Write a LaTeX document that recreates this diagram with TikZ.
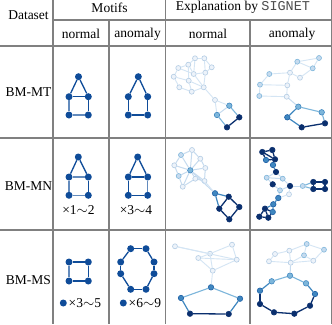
\documentclass[tikz,border=0pt]{standalone}
\usepackage{fontspec}
\setmainfont{Liberation Serif}
\setmonofont{Liberation Mono}
\begin{document}
\begin{tikzpicture}[x=1pt,y=-1pt,
  grid/.style={draw=black!50,line width=1.1pt},
  txt/.style={font=\fontsize{13.5}{15}\selectfont,inner sep=0pt},
  mn/.style={circle,fill=mblue,inner sep=0pt,minimum size=7pt},
  me/.style={draw=mblue,line width=1.3pt},
  mel/.style={draw=mblue!65,line width=1.3pt},
  pn/.style={circle,draw=pal2,fill=pal1,line width=0.6pt,inner sep=0pt,minimum size=5pt},
  ln/.style={circle,draw=bl3,fill=bl2,line width=0.6pt,inner sep=0pt,minimum size=5pt},
  mdn/.style={circle,draw=bl4,fill=bl3,line width=0.6pt,inner sep=0pt,minimum size=5.5pt},
  mmn/.style={circle,draw=bl5,fill=bl4,line width=0.6pt,inner sep=0pt,minimum size=5.5pt},
  dn/.style={circle,draw=bl6,fill=bl6,line width=0.6pt,inner sep=0pt,minimum size=5.5pt},
  pe/.style={draw=pal3,line width=0.9pt},
  le/.style={draw=bl2,line width=1pt},
  mde/.style={draw=bl3,line width=1.1pt},
  mme/.style={draw=bl4,line width=1.2pt},
  de/.style={draw=bl6,line width=1.3pt}]
\definecolor{mblue}{HTML}{0F4C99}
\definecolor{pal1}{HTML}{EDF3FA}
\definecolor{pal2}{HTML}{B3CCE4}
\definecolor{pal3}{HTML}{D4E5F4}
\definecolor{bl2}{HTML}{C6DBEF}
\definecolor{bl3}{HTML}{7DB6DB}
\definecolor{bl4}{HTML}{3F87C0}
\definecolor{bl5}{HTML}{1E5FA6}
\definecolor{bl6}{HTML}{0A2F6E}
\useasboundingbox (0,0) rectangle (332,324);
\fill[white] (0,0) rectangle (332,324);
% grid
\draw[grid] (53,0) -- (53,324);
\draw[grid] (109,20) -- (109,324);
\draw[grid] (165.5,0) -- (165.5,324);
\draw[grid] (250,20) -- (250,324);
\draw[grid] (331.3,0) -- (331.3,324);
\draw[grid] (53,20) -- (332,20);
\draw[grid] (0,46) -- (332,46);
\draw[grid] (0,138) -- (332,138);
\draw[grid] (0,230) -- (332,230);
% headers
\node[txt] (hds) at (28.5,15) {Dataset};
\node[txt] (hmo) at (109.5,8) {Motifs};
\node[txt] (hn1) at (81,34) {normal};
\node[txt] (ha1) at (137.5,34) {anomaly};
\node[txt] (hex) at (243,7.5) {Explanation by {\color{black!70}\texttt{SIGNET}}};
\node[txt] (hn2) at (208,34) {normal};
\node[txt] (ha2) at (292,34) {anomaly};
\node[txt] (r1) at (28.5,92) {BM-MT};
\node[txt] (r2) at (28.5,186) {BM-MN};
\node[txt] (r3) at (28.5,280) {BM-MS};
% motif row1 normal
\node[mn] (m1t) at (78.5,76.7) {};
\node[mn] (m1l) at (69,96.7) {};
\node[mn] (m1r) at (88.3,96.7) {};
\node[mn] (m1a) at (69,115) {};
\node[mn] (m1b) at (88.3,115) {};
\draw[me] (m1t) -- (m1l); \draw[me] (m1t) -- (m1r); \draw[me] (m1l) -- (m1r);
\draw[mel] (m1l) -- (m1a); \draw[mel] (m1a) -- (m1b); \draw[me] (m1r) -- (m1b);
% motif row1 anomaly
\node[mn] (m2t) at (138.3,76.7) {};
\node[mn] (m2l) at (128.3,96.7) {};
\node[mn] (m2r) at (147.7,96.7) {};
\node[mn] (m2a) at (128.3,115) {};
\node[mn] (m2b) at (147.7,115) {};
\draw[me] (m2t) -- (m2l); \draw[me] (m2t) -- (m2r);
\draw[me] (m2l) -- (m2a); \draw[me] (m2a) -- (m2b); \draw[me] (m2r) -- (m2b);
% motif row2 normal
\node[mn] (m3t) at (78.3,157) {};
\node[mn] (m3l) at (69,177) {};
\node[mn] (m3r) at (88.3,177) {};
\node[mn] (m3a) at (69,195.3) {};
\node[mn] (m3b) at (88.3,195.3) {};
\draw[me] (m3t) -- (m3l); \draw[me] (m3t) -- (m3r); \draw[mel] (m3l) -- (m3r);
\draw[mel] (m3l) -- (m3a); \draw[mel] (m3a) -- (m3b); \draw[me] (m3r) -- (m3b);
\node[txt] (x12) at (78.5,210) {×1{$\sim$}2};
% motif row2 anomaly
\node[mn] (m4t) at (137.7,157) {};
\node[mn] (m4l) at (128.3,177) {};
\node[mn] (m4r) at (147.7,177) {};
\node[mn] (m4a) at (128.3,195.3) {};
\node[mn] (m4b) at (147.7,195.3) {};
\draw[me] (m4t) -- (m4l); \draw[me] (m4t) -- (m4r); \draw[me] (m4l) -- (m4r);
\draw[me] (m4l) -- (m4a); \draw[me] (m4a) -- (m4b); \draw[mel] (m4r) -- (m4b);
\node[txt] (x34) at (136,210) {×3{$\sim$}4};
% motif row3 normal
\node[mn] (m5a) at (69,262) {};
\node[mn] (m5b) at (88.3,262) {};
\node[mn] (m5c) at (88.3,281) {};
\node[mn] (m5d) at (69,281) {};
\draw[me] (m5a) -- (m5b); \draw[me] (m5b) -- (m5c); \draw[me] (m5c) -- (m5d); \draw[mel] (m5d) -- (m5a);
\node[mn] (m5dot) at (63.3,303) {};
\node[txt,anchor=west] (x35) at (68.5,303) {×3{$\sim$}5};
% motif row3 anomaly
\node[mn] (o1) at (130.7,248.7) {};
\node[mn] (o2) at (146,248.7) {};
\node[mn] (o3) at (154,262) {};
\node[mn] (o4) at (154,273.7) {};
\node[mn] (o5) at (146,289.3) {};
\node[mn] (o6) at (130.7,289.3) {};
\node[mn] (o7) at (120.7,273.7) {};
\node[mn] (o8) at (120.7,262) {};
\draw[me] (o1) -- (o2); \draw[me] (o2) -- (o3); \draw[me] (o3) -- (o4); \draw[me] (o4) -- (o5);
\draw[me] (o5) -- (o6); \draw[me] (o6) -- (o7); \draw[me] (o7) -- (o8); \draw[me] (o8) -- (o1);
\node[mn] (m6dot) at (123.3,303) {};
\node[txt,anchor=west] (x69) at (128.5,303) {×6{$\sim$}9};
% ===== explanation row1 normal
\node[pn] (a1) at (195,58.3) {};
\node[pn] (a2) at (204.3,58.3) {};
\node[pn] (a3) at (178.3,68) {};
\node[pn] (a4) at (188.3,64.7) {};
\node[pn] (a5) at (211.7,67.3) {};
\node[pn] (a6) at (193.7,74) {};
\node[pn] (a7) at (205.3,72.7) {};
\node[pn] (a8) at (173.7,76.7) {};
\node[pn] (a9) at (188.7,80.7) {};
\node[pn] (a10) at (179.3,87.3) {};
\node[pn] (a11) at (191.7,91.7) {};
\node[pn] (a12) at (203.7,87.3) {};
\node[pn] (a13) at (215,100) {};
\node[mdn] (a14) at (229.3,105.7) {};
\node[mdn] (a15) at (217,115) {};
\node[dn] (a16) at (239.3,117.3) {};
\node[dn] (a17) at (227,127.3) {};
\foreach \u/\v in {a1/a2,a1/a4,a2/a5,a2/a7,a1/a6,a4/a3,a4/a6,a4/a9,a3/a8,a3/a6,a6/a7,a6/a12,a8/a9,a8/a10,a9/a11,a9/a12,a10/a11,a11/a12,a5/a7,a7/a12,a12/a13,a13/a14,a13/a15}
  \draw[pe] (\u) -- (\v);
\draw[le] (a14) -- (a15);
\draw[mde] (a14) -- (a16);
\draw[mde] (a15) -- (a17);
\draw[de] (a16) -- (a17);
% ===== explanation row1 anomaly
\node[ln] (b1) at (319,58) {};
\node[ln] (b2) at (297.3,61.7) {};
\node[ln] (b3) at (312.7,68.3) {};
\node[pn] (b4) at (290,72.7) {};
\node[ln] (b5) at (269.3,74) {};
\node[pn] (b6) at (300,77.7) {};
\node[ln] (b7) at (260,84.7) {};
\node[pn] (b8) at (287.3,85.3) {};
\node[ln] (b9) at (259.3,96) {};
\node[pn] (b10) at (286.7,96.7) {};
\node[mdn] (b11) at (298.3,106.7) {};
\node[mdn] (b12) at (321.7,112.3) {};
\node[mmn] (b13) at (287.3,117.3) {};
\node[dn] (b14) at (301.7,127.3) {};
\node[dn] (b15) at (325,123.3) {};
\foreach \u/\v in {b1/b2,b1/b3,b2/b3,b2/b4,b3/b6,b4/b6,b4/b5,b4/b8,b5/b7,b7/b8,b7/b9,b8/b10,b9/b10}
  \draw[pe] (\u) -- (\v);
\draw[le] (b10) -- (b11);
\draw[mde] (b11) -- (b12);
\draw[mde] (b12) -- (b15);
\draw[mme] (b11) -- (b13);
\draw[mme] (b13) -- (b14);
\draw[de] (b14) -- (b15);
% ===== explanation row2 normal
\node[ln] (c1) at (181,155) {};
\node[pn] (c2) at (192,150) {};
\node[pn] (c3) at (200.3,158.7) {};
\node[pn] (c4) at (174.3,165.3) {};
\node[mdn] (c5) at (190.3,170.3) {};
\node[pn] (c6) at (205.3,168) {};
\node[ln] (c7) at (178.7,176) {};
\node[pn] (c8) at (195.3,178.7) {};
\node[pn] (c9) at (204.5,181) {};
\node[pn] (c10) at (182.7,186.7) {};
\node[mmn] (c11) at (215,193.3) {};
\node[dn] (c12) at (228.7,196.7) {};
\node[dn] (c13) at (219.3,208.7) {};
\node[dn] (c14) at (239.3,207) {};
\node[dn] (c15) at (229.3,219.3) {};
\foreach \u/\v in {c5/c1,c5/c2,c5/c3,c5/c4,c5/c6,c5/c7,c5/c8,c5/c9,c5/c10,c1/c2,c2/c3,c3/c6,c1/c4,c4/c7,c7/c10,c10/c8,c8/c9,c6/c9}
  \draw[le] (\u) -- (\v);
\draw[le] (c5) -- (c11);
\draw[pe] (c9) -- (c11);
\draw[mme] (c11) -- (c12);
\draw[mme] (c11) -- (c13);
\foreach \u/\v in {c12/c14,c14/c15,c15/c13,c13/c12}
  \draw[de] (\u) -- (\v);
% ===== explanation row2 anomaly
\node[dn] (d1) at (262.3,152) {};
\node[dn] (d2) at (272.3,150) {};
\node[mmn] (d3) at (266,160) {};
\node[dn] (d4) at (275,159.3) {};
\node[mmn] (d5) at (273,165) {};
\node[dn] (d6) at (276,172) {};
\node[ln] (d7) at (266.7,177.7) {};
\node[ln] (d8) at (282.7,178.7) {};
\node[dn] (d9) at (272.7,184.3) {};
\node[dn] (d10) at (290,186) {};
\node[ln] (d11) at (280,190.3) {};
\node[pn] (d12) at (289,194.3) {};
\node[mmn] (d13) at (278.3,198) {};
\node[mmn] (d14) at (273.3,204.3) {};
\node[ln] (d15) at (302.7,186) {};
\node[dn] (d16) at (313.3,182) {};
\node[dn] (d17) at (325,182) {};
\node[dn] (d18) at (313.3,189) {};
\node[dn] (d19) at (325,189) {};
\node[dn] (d20) at (265,208.7) {};
\node[mmn] (d21) at (272.7,212) {};
\node[dn] (d22) at (259.3,216.7) {};
\node[dn] (d23) at (268.3,217.7) {};
\foreach \u/\v in {d1/d2,d1/d3,d2/d4,d3/d4,d1/d4,d20/d21,d20/d22,d21/d23,d22/d23,d20/d23,d16/d17,d17/d19,d18/d19,d16/d18}
  \draw[de] (\u) -- (\v);
\draw[mme] (d4) -- (d5); \draw[mme] (d5) -- (d6);
\draw[le] (d6) -- (d7); \draw[le] (d6) -- (d8);
\draw[le] (d7) -- (d9); \draw[le] (d7) -- (d8);
\draw[le] (d8) -- (d10); \draw[le] (d9) -- (d11);
\draw[le] (d11) -- (d10); \draw[pe] (d10) -- (d12);
\draw[pe] (d12) -- (d13); \draw[le] (d11) -- (d13);
\draw[mme] (d13) -- (d14); \draw[mme] (d14) -- (d20); \draw[mme] (d14) -- (d21);
\draw[le] (d10) -- (d15); \draw[mde] (d15) -- (d16); \draw[mde] (d15) -- (d18);
% ===== explanation row3 normal
\node[pn] (e1) at (175,246.3) {};
\node[pn] (e2) at (232,244.7) {};
\node[pn] (e3) at (210,253.7) {};
\node[pn] (e4) at (198.3,258) {};
\node[pn] (e5) at (236.7,259.7) {};
\node[pn] (e6) at (212.7,270.7) {};
\node[mmn] (e7) at (211,287.3) {};
\node[mmn] (e8) at (181,298) {};
\node[mmn] (e9) at (240,298.7) {};
\node[dn] (e10) at (190,313.7) {};
\node[dn] (e11) at (228.7,314) {};
\foreach \u/\v in {e1/e3,e1/e5,e3/e2,e2/e5,e4/e3,e4/e5,e4/e6,e3/e6,e6/e5,e6/e7}
  \draw[pe] (\u) -- (\v);
\draw[mde] (e7) -- (e8); \draw[mde] (e7) -- (e9);
\draw[mme] (e8) -- (e10); \draw[de] (e10) -- (e11); \draw[mme] (e11) -- (e9);
% ===== explanation row3 anomaly
\node[ln] (g1) at (306.7,244) {};
\node[ln] (g2) at (324,249.7) {};
\node[pn] (g3) at (289.3,250.7) {};
\node[pn] (g4) at (275,254) {};
\node[ln] (g5) at (304,255.3) {};
\node[pn] (g6) at (313.3,260.7) {};
\node[pn] (g7) at (269,261.3) {};
\node[pn] (g8) at (290.7,262.7) {};
\node[mdn] (g9) at (290,275.7) {};
\node[mdn] (g10) at (271.7,281.3) {};
\node[mdn] (g11) at (306,283.3) {};
\node[mmn] (g12) at (260,290.7) {};
\node[mmn] (g13) at (315,294) {};
\node[dn] (g14) at (260,304) {};
\node[dn] (g15) at (310,305.7) {};
\node[dn] (g16) at (274,312.3) {};
\node[dn] (g17) at (294.3,313.7) {};
\foreach \u/\v in {g1/g2,g1/g3,g1/g5,g2/g6,g5/g6,g3/g4,g4/g7,g7/g8,g3/g8,g5/g8,g6/g8}
  \draw[pe] (\u) -- (\v);
\draw[le] (g8) -- (g9);
\draw[mde] (g9) -- (g10); \draw[mde] (g9) -- (g11);
\draw[mme] (g10) -- (g12); \draw[mme] (g11) -- (g13);
\foreach \u/\v in {g12/g14,g14/g16,g16/g17,g17/g15,g15/g13}
  \draw[de] (\u) -- (\v);
\end{tikzpicture}
\end{document}
